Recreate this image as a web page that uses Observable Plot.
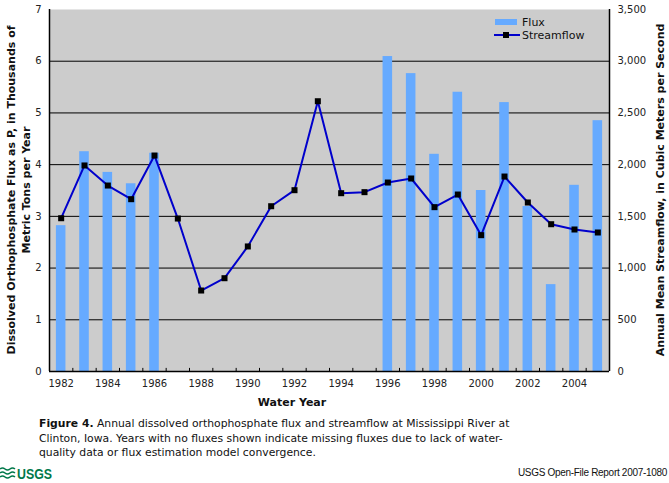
<!DOCTYPE html>
<html>
<head>
<meta charset="utf-8">
<script src="https://cdn.jsdelivr.net/npm/d3@7"></script>
<script src="https://cdn.jsdelivr.net/npm/@observablehq/plot@0.6"></script>
<style>
  html, body { margin: 0; padding: 0; background: #fff; }
  #wrap { position: relative; width: 669px; height: 483px; overflow: hidden; font-family: "DejaVu Sans", Verdana, sans-serif; }
  #caption { position: absolute; left: 39px; top: 417px; font-size: 10.8px; line-height: 14.5px; color: #111; white-space: nowrap; }
  #caption b { font-weight: bold; }
  #logo { position: absolute; left: 0px; top: 466px; }
  #report { position: absolute; right: 2px; top: 467px; font-family: "Liberation Sans", Arial, sans-serif; font-size: 10px; letter-spacing: -0.3px; color: #111; }
</style>
</head>
<body>
<div id="wrap">
  <div id="chart"></div>
  <div id="caption"><b>Figure 4.</b> Annual dissolved orthophosphate flux and streamflow at Mississippi River at<br>Clinton, Iowa. Years with no fluxes shown indicate missing fluxes due to lack of water-<br>quality data or flux estimation model convergence.</div>
  <svg id="logo" width="56" height="14" viewBox="0 0 56 14">
    <g fill="none" stroke="#00784a" stroke-width="1.6">
      <path d="M0,3 q2.5,-2 5,0 t5,0 t5,0"/>
      <path d="M0,7 q2.5,-2 5,0 t5,0 t5,0"/>
      <path d="M0,11 q2.5,-2 5,0 t5,0 t5,0"/>
    </g>
    <text x="17" y="12.5" fill="#00784a" font-family="Liberation Sans Narrow, Liberation Sans, Arial" font-weight="bold" font-size="14" textLength="35" lengthAdjust="spacingAndGlyphs">USGS</text>
  </svg>
  <div id="report">USGS Open-File Report 2007-1080</div>
</div>
<script>
// ---- data ----
const years = [1982, 1983, 1984, 1985, 1986, 1987, 1988, 1989, 1990, 1991, 1992, 1993,
               1994, 1995, 1996, 1997, 1998, 1999, 2000, 2001, 2002, 2003, 2004, 2005];
// dissolved orthophosphate flux, thousands of metric tons per year (null = missing)
const flux = [2.82, 4.25, 3.85, 3.63, 4.22, null, null, null, null, null, null, null,
              null, null, 6.09, 5.76, 4.20, 5.40, 3.50, 5.20, 3.19, 1.68, 3.60, 4.85];
// annual mean streamflow, cubic meters per second
const streamflow = [1482, 1992, 1798, 1666, 2088, 1479, 783, 902, 1209, 1598, 1753, 2613,
                    1724, 1734, 1827, 1866, 1589, 1711, 1318, 1885, 1634, 1424, 1373, 1344];
const xTickLabels = [1982, 1984, 1986, 1988, 1990, 1992, 1994, 1996, 1998, 2000, 2002, 2004];
const leftTicks = [0, 1, 2, 3, 4, 5, 6, 7];
const gridValues = [1, 2, 3, 4, 5, 6];
const flowPerUnit = 500; // right axis: 1 left unit = 500 m³/s

const data = years.map((year, i) => ({year, flux: flux[i], streamflow: streamflow[i]}));
const fluxData = data.filter(d => d.flux != null);

const W = 669, H = 410, mL = 49, mR = 60, mT = 9, mB = 39;

const chart = Plot.plot({
  width: W, height: H,
  marginLeft: mL, marginRight: mR, marginTop: mT, marginBottom: mB,
  style: {fontFamily: "DejaVu Sans, Verdana, sans-serif", fontSize: "10px", color: "#222", background: "white", overflow: "visible"},
  x: {domain: [years[0] - 0.5, years[years.length - 1] + 0.5], axis: null},
  y: {domain: [0, 7], axis: null},
  marks: [
    Plot.frame({fill: "#cccccc", stroke: null}),
    Plot.ruleY(gridValues, {stroke: "black", strokeWidth: 1}),
    Plot.rectY(fluxData, {x1: d => d.year - 0.205, x2: d => d.year + 0.205, y: "flux", fill: "#66aaff"}),
    Plot.ruleX(years.slice(0, -1), {x: d => d + 0.5, y1: 0, y2: 0.06, stroke: "black"}),
    Plot.ruleY([0], {stroke: "black", strokeWidth: 1.5}),
    Plot.ruleX([years[0] - 0.5, years[years.length - 1] + 0.5], {stroke: "black", strokeWidth: 1.5}),
    Plot.line(data, {x: "year", y: d => d.streamflow / flowPerUnit, stroke: "#0000cc", strokeWidth: 2}),
    Plot.dot(data, {x: "year", y: d => d.streamflow / flowPerUnit, symbol: "square", r: 3.4, fill: "black", stroke: null}),
    Plot.axisX({ticks: xTickLabels, tickSize: 0, tickPadding: 8, tickFormat: d => String(d), label: null}),
    Plot.axisY({anchor: "left", ticks: leftTicks, tickSize: 0, tickPadding: 8, tickFormat: d => String(d), label: null}),
    Plot.axisY({anchor: "right", ticks: leftTicks, tickSize: 0, tickPadding: 8, tickFormat: d => d3.format(",")(d * flowPerUnit), label: null})
  ]
});
document.getElementById("chart").appendChild(chart);

const svg = d3.select(chart);
const cy = mT + (H - mT - mB) / 2;
// left title (two lines)
const lt = svg.append("text")
  .attr("transform", `translate(11,${cy}) rotate(-90)`)
  .attr("text-anchor", "middle")
  .attr("font-weight", "bold").attr("font-size", 11).attr("fill", "#111");
lt.append("tspan").attr("x", 0).attr("dy", "0.35em").text("Dissolved Orthophosphate Flux as P, in Thousands of");
lt.append("tspan").attr("x", 0).attr("dy", "1.35em").text("Metric Tons per Year");
// right title
svg.append("text")
  .attr("transform", `translate(660,${cy}) rotate(-90)`)
  .attr("text-anchor", "middle").attr("dy", "0.35em")
  .attr("font-weight", "bold").attr("font-size", 11).attr("fill", "#111")
  .text("Annual Mean Streamflow, in Cubic Meters per Second");
// x title
svg.append("text")
  .attr("x", 292).attr("y", 402).attr("dy", "0.35em")
  .attr("text-anchor", "middle")
  .attr("font-weight", "bold").attr("font-size", 11).attr("fill", "#111")
  .text("Water Year");
// legend
const lg = svg.append("g").attr("font-size", 11).attr("fill", "#111").attr("text-anchor", "start");
lg.append("rect").attr("x", 495).attr("y", 19).attr("width", 22).attr("height", 6).attr("fill", "#66aaff");
lg.append("text").attr("x", 522).attr("y", 22).attr("dy", "0.35em").text("Flux");
lg.append("line").attr("x1", 494).attr("x2", 520).attr("y1", 35).attr("y2", 35).attr("stroke", "#0000cc").attr("stroke-width", 2);
lg.append("rect").attr("x", 503).attr("y", 32).attr("width", 6).attr("height", 6).attr("fill", "black");
lg.append("text").attr("x", 522).attr("y", 35).attr("dy", "0.35em").text("Streamflow");
</script>
</body>
</html>
